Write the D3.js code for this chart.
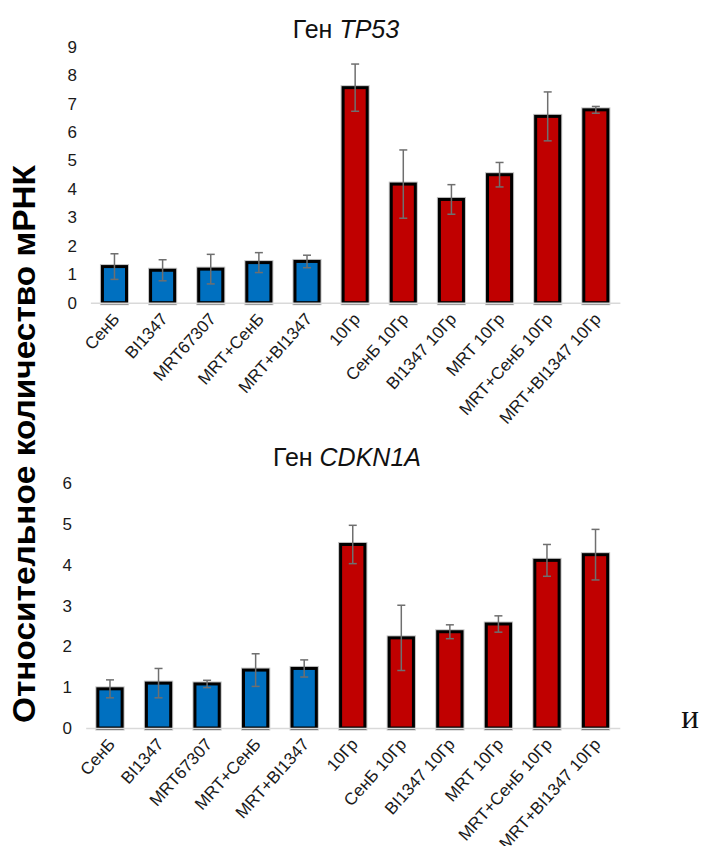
<!DOCTYPE html>
<html>
<head>
<meta charset="utf-8">
<script src="https://cdn.jsdelivr.net/npm/d3@7"></script>
<style>
  html, body { margin: 0; padding: 0; background: #fff; }
  svg { display: block; }
  text { font-family: "Liberation Sans", Arial, sans-serif; }
</style>
</head>
<body>
<svg id="chart" width="701" height="846"></svg>
<script>
const categories = ["СенБ", "BI1347", "MRT67307", "MRT+СенБ", "MRT+BI1347", "10Гр",
  "СенБ 10Гр", "BI1347 10Гр", "MRT 10Гр", "MRT+СенБ 10Гр", "MRT+BI1347 10Гр"];
const groups = ["ctrl", "ctrl", "ctrl", "ctrl", "ctrl", "irr", "irr", "irr", "irr", "irr", "irr"];
const tp53Values = [1.27, 1.14, 1.18, 1.41, 1.45, 7.56, 4.17, 3.63, 4.50, 6.55, 6.78];
const tp53Errors = [0.45, 0.37, 0.52, 0.35, 0.22, 0.83, 1.20, 0.52, 0.43, 0.86, 0.12];
const cdknValues = [0.96, 1.10, 1.08, 1.42, 1.46, 4.50, 2.21, 2.36, 2.55, 4.11, 4.25];
const cdknErrors = [0.22, 0.36, 0.09, 0.40, 0.21, 0.47, 0.80, 0.17, 0.20, 0.39, 0.62];
const tp53Ticks = [0, 1, 2, 3, 4, 5, 6, 7, 8, 9];
const cdknTicks = [0, 1, 2, 3, 4, 5, 6];

const colors = { ctrl: "#0070C0", irr: "#C00000" };
const svg = d3.select("#chart");

function panel(opts) {
  const { values, errors, ticks, yMax, x0, x1, yBase, yTop, title, titleX, titleY, tickRight } = opts;
  const g = svg.append("g");
  const x = d3.scaleBand().domain(categories).range([x0, x1]).paddingInner(0.5).paddingOuter(0.25);
  const y = d3.scaleLinear().domain([0, yMax]).range([yBase, yTop]);

  // y tick labels
  const ya = d3.axisLeft(y).tickValues(ticks).tickSize(0).tickPadding(0).tickFormat(d3.format("d"));
  const yg = g.append("g").attr("transform", `translate(${tickRight},0)`).call(ya);
  yg.select(".domain").remove();
  yg.selectAll("text").attr("font-size", 17).attr("fill", "#1a1a1a")
    .style("font-family", "'Liberation Sans', Arial, sans-serif");

  // bars
  const data = categories.map((c, i) => ({ c, v: values[i], e: errors[i], grp: groups[i] }));
  g.selectAll("rect.shadow").data(data).enter().append("rect")
    .attr("x", d => x(d.c)).attr("y", d => y(d.v))
    .attr("width", x.bandwidth()).attr("height", d => y(0) - y(d.v))
    .attr("fill", "none").attr("stroke", "#9a9a9a").attr("stroke-width", 5).attr("opacity", 0.6);
  g.selectAll("rect.bar").data(data).enter().append("rect")
    .attr("x", d => x(d.c)).attr("y", d => y(d.v))
    .attr("width", x.bandwidth()).attr("height", d => y(0) - y(d.v))
    .attr("fill", d => colors[d.grp]).attr("stroke", "#000").attr("stroke-width", 3);

  // baseline / x axis
  const xa = d3.axisBottom(x).tickSize(0).tickPadding(0);
  const xg = g.append("g").attr("transform", `translate(0,${y(0)})`).call(xa);
  xg.select(".domain").attr("stroke", "#d9d9d9").attr("stroke-width", 1.6);
  xg.selectAll("text")
    .attr("font-size", 17).attr("fill", "#1a1a1a")
    .style("font-family", "'Liberation Sans', Arial, sans-serif")
    .attr("text-anchor", "end").attr("dy", null).attr("y", 0).attr("x", 0)
    .attr("transform", "translate(6,17) rotate(-48)");

  // error bars
  const cx = d => x(d.c) + x.bandwidth() / 2;
  const eg = g.append("g").attr("stroke", "#6f6f6f").attr("stroke-width", 1.5);
  eg.selectAll("line.v").data(data).enter().append("line")
    .attr("x1", cx).attr("x2", cx).attr("y1", d => y(d.v + d.e)).attr("y2", d => y(d.v - d.e));
  eg.selectAll("line.t").data(data).enter().append("line")
    .attr("x1", d => cx(d) - 4).attr("x2", d => cx(d) + 4).attr("y1", d => y(d.v + d.e)).attr("y2", d => y(d.v + d.e));
  eg.selectAll("line.b").data(data).enter().append("line")
    .attr("x1", d => cx(d) - 4).attr("x2", d => cx(d) + 4).attr("y1", d => y(d.v - d.e)).attr("y2", d => y(d.v - d.e));

  // title
  const t = g.append("text").attr("x", titleX).attr("y", titleY)
    .attr("text-anchor", "middle").attr("font-size", 25).attr("fill", "#111");
  t.append("tspan").text("Ген ");
  t.append("tspan").attr("font-style", "italic").text(title);
  return { x, y };
}

panel({ values: tp53Values, errors: tp53Errors, ticks: tp53Ticks, yMax: 9,
  x0: 90.4, x1: 619.9, yBase: 302.7, yTop: 46.7, title: "TP53", titleX: 346, titleY: 38, tickRight: 77 });
panel({ values: cdknValues, errors: cdknErrors, ticks: cdknTicks, yMax: 6,
  x0: 85.7, x1: 619.8, yBase: 728, yTop: 483.3, title: "CDKN1A", titleX: 347, titleY: 466, tickRight: 72 });

// shared y-axis label
svg.append("text")
  .attr("transform", "translate(35,444) rotate(-90)")
  .attr("text-anchor", "middle").attr("font-size", 32).attr("font-weight", "bold")
  .attr("fill", "#000")
  .attr("textLength", 558).attr("lengthAdjust", "spacingAndGlyphs")
  .text("Относительное количество мРНК");

// stray letter at right
svg.append("text").attr("x", 690).attr("y", 728).attr("text-anchor", "middle")
  .attr("font-size", 33).attr("fill", "#111")
  .style("font-family", "'Liberation Serif', 'Times New Roman', serif")
  .text("и");
</script>
</body>
</html>
